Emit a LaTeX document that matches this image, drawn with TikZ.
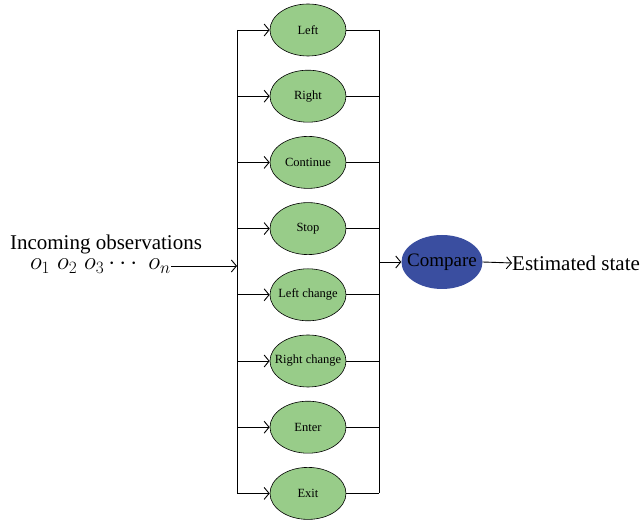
\documentclass[tikz,border=0pt]{standalone}
\usepackage{fontspec}
\setmainfont{Liberation Serif}
\usepackage{tikz}
\usetikzlibrary{shapes,arrows.meta}
\definecolor{leafgreen}{RGB}{152,204,137}
\definecolor{cmpblue}{RGB}{58,78,160}
\tikzstyle{state} = [ellipse, draw, fill=leafgreen, line width=0.6pt,
    minimum width=76pt, minimum height=52pt, inner sep=0pt,
    font=\fontsize{12.5}{14}\selectfont]
\tikzstyle{compare} = [ellipse, fill=cmpblue, minimum width=81pt,
    minimum height=54pt, inner sep=0pt, font=\fontsize{19}{22}\selectfont]
\tikzstyle{bigtext} = [inner sep=0pt, font=\fontsize{21}{24}\selectfont]
\tikzstyle{line} = [draw, line width=0.9pt, -{Straight Barb[length=5pt,width=12pt]}]
\tikzstyle{wire} = [draw, line width=0.9pt]
\newcommand{\nowidth}[1]{\makebox[0pt]{#1}}

\begin{document}
\begin{tikzpicture}[x=1pt, y=1pt, node distance=66.2pt]
\useasboundingbox (0,0) rectangle (643,525);

\node [state] at (308,495) (left) {Left};
\node [state, below of=left] (right) {Right};
\node [state, below of=right] (continue) {Continue};
\node [state, below of=continue] (stop) {Stop};
\node [state, below of=stop] (leftchange) {\nowidth{Left change}};
\node [state, below of=leftchange] (rightchange) {\nowidth{Right change}};
\node [state, below of=rightchange] (enter) {Enter};
\node [state, below of=enter] (exit) {Exit};

\coordinate (lbus) at (237,0);
\coordinate (rbus) at (379,0);
\path [wire] (left -| lbus) -- (exit -| lbus);
\path [wire] (left -| rbus) -- (exit -| rbus);
\foreach \s in {left,right,continue,stop,leftchange,rightchange,enter,exit} {
  \path [line] (\s -| lbus) -- (\s.west);
  \path [wire] (\s.east) -- (\s -| rbus);
}

\node [bigtext, anchor=base] at (106,275) (title) {Incoming observations};
\node [bigtext, anchor=east, font=\fontsize{23}{24}\selectfont] at (171,259)
    (obs) {$o_1\; o_2\; o_3 \cdots\; o_n$};
\path [line] (obs.east) -- (obs -| lbus);

\node [compare] at (442,263) (cmp) {\nowidth{Compare}};
\node [bigtext, anchor=west] at (512,262) (est) {Estimated state};
\path [line] (cmp -| rbus) -- (cmp.west);
\path [line] (cmp.east) -- (est.west);
\end{tikzpicture}
\end{document}
